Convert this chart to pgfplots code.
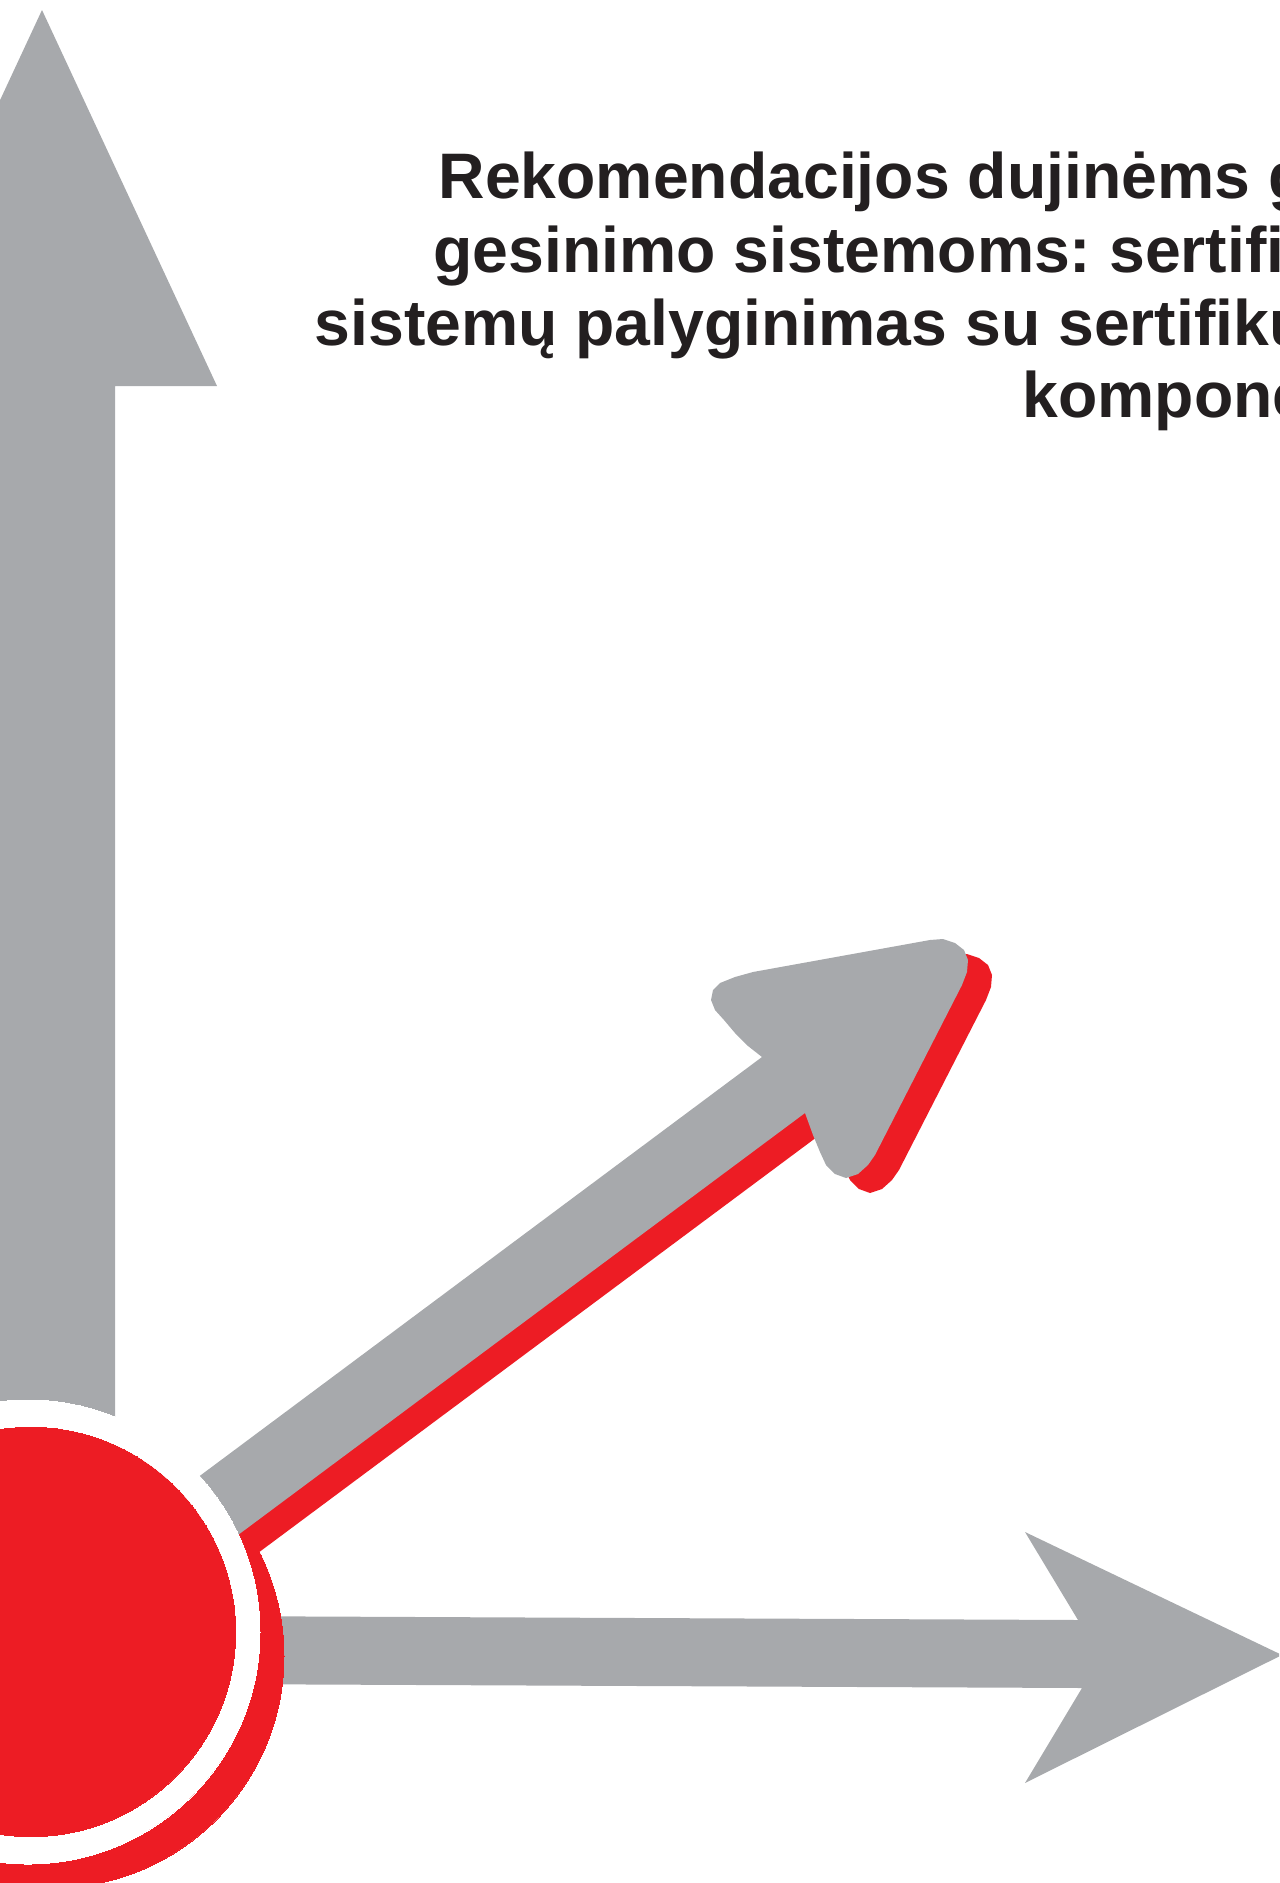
\documentclass[border=0pt]{standalone}
\usepackage{fontspec}
\setmainfont{Liberation Sans}
\usepackage{pgfplots}
\pgfplotsset{compat=1.18}
\usepackage{pgfplotstable}

\definecolor{greyc}{HTML}{A7A9AC}
\definecolor{redc}{HTML}{ED1C24}
\definecolor{textc}{HTML}{231F20}

% diagonal arrow outline, pixel coordinates (y down)
\pgfplotstableread{
x y
150 1513
762 1057
748 1046
735 1033
724 1020
715 1010
711 1000
713 990
720 983
735 977
753 972
930 940
943 939
955 943
964 950
968 960
967 972
962 985
875 1155
868 1165
858 1174
846 1178
835 1174
826 1165
820 1152
813 1135
805 1113
195 1567
}\diagarrow

\pgfplotstableread{
x y
42 10
217 386
115 386
115 1500
-31 1500
-31 386
-133 386
}\vertarrow

\pgfplotstableread{
x y
200 1616
1078 1620
1025 1532
1282 1655
1025 1783
1082 1688
200 1684
}\horzarrow

\begin{document}
\frenchspacing
\begin{tikzpicture}
\begin{axis}[
  at={(0,0)}, anchor=south west,
  scale only axis,
  width=383.7pt, height=564.9pt,
  xmin=0, xmax=1279, ymin=0, ymax=1883,
  y dir=reverse,
  hide axis,
  clip=true,
  clip marker paths=true,
]
\coordinate (bbA) at (rel axis cs:0,0);
\coordinate (bbB) at (rel axis cs:1,1);

\addplot[fill=greyc, draw=none] table {\horzarrow} -- cycle;
% shadow disc
\addplot[only marks, mark=*, mark size=69.6pt, mark options={fill=redc, draw=redc, line width=0pt}]
  coordinates {(52,1656)};
% red shadow of the diagonal arrow
\addplot[fill=redc, draw=none] table[x expr=\thisrowno{0}+24, y expr=\thisrowno{1}+15] {\diagarrow} -- cycle;
\addplot[fill=greyc, draw=none] table {\diagarrow} -- cycle;
\addplot[fill=greyc, draw=none] table {\vertarrow} -- cycle;
% white ring and red disc
\addplot[only marks, mark=*, mark size=69.6pt, mark options={fill=white, draw=white, line width=0pt}]
  coordinates {(28,1632)};
\addplot[only marks, mark=*, mark size=61.4pt, mark options={fill=redc, draw=redc, line width=0pt}]
  coordinates {(31,1632)};

\begin{scope}[every node/.style={anchor=base west, inner sep=0pt, text=textc,
    font=\fontsize{19.3}{22}\selectfont\bfseries}]
\node at (axis cs:438,198) {Rekomendacijos dujinėms gaisro};
\node at (axis cs:433,272) {gesinimo sistemoms: sertifikuotų};
\node at (axis cs:314,345) {sistemų palyginimas su sertifikuotų};
\node at (axis cs:1022,417) {komponentų sistemomis};
\end{scope}
\end{axis}
\pgfresetboundingbox
\path[use as bounding box] (bbA) rectangle (bbB);
\end{tikzpicture}
\end{document}
